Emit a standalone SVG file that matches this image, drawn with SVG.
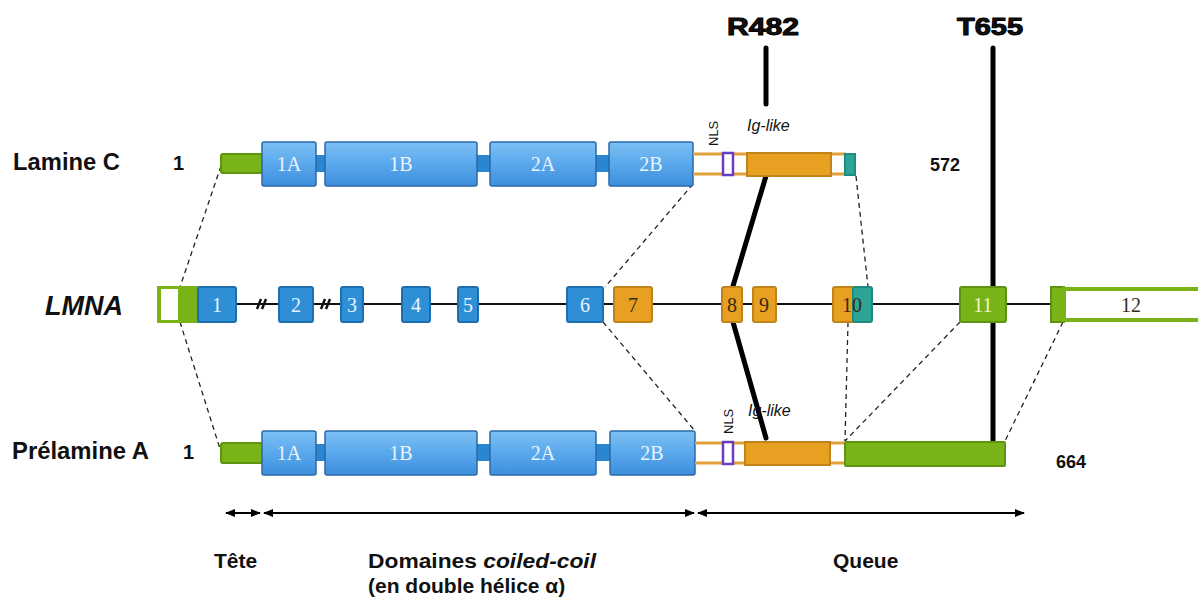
<svg xmlns="http://www.w3.org/2000/svg" width="1198" height="601" viewBox="0 0 1198 601">
<defs>
<linearGradient id="bg" x1="0" y1="0" x2="0" y2="1">
<stop offset="0" stop-color="#7cc0f4"/>
<stop offset="0.5" stop-color="#5aa8ec"/>
<stop offset="1" stop-color="#3d8edc"/>
</linearGradient>
<marker id="ah" viewBox="0 0 10 10" refX="9" refY="5" markerWidth="5" markerHeight="5" orient="auto-start-reverse">
<path d="M0,1 L10,5 L0,9 z" fill="#000"/>
</marker>
<style>
.lbl{font-family:"Liberation Sans",Arial,sans-serif;font-weight:bold;fill:#111}
.txt{font-family:"Liberation Sans",Arial,sans-serif;fill:#111}
.dom{fill:url(#bg);stroke:#2a6aa8;stroke-width:1.5}
.lnk{fill:#2a86d0}
.ser{font-family:"Liberation Serif","Times New Roman",serif;font-size:20px;text-anchor:middle}
.wt{fill:#eaf4ff}
.dk{fill:#3a2a10}
.eb{fill:#2f8fd6;stroke:#1e6fb0;stroke-width:2}
.eo{fill:#e8a022;stroke:#c08418;stroke-width:2}
.eg{fill:#7ab317;stroke:#5f9410;stroke-width:2}
.et{fill:#2aa596;stroke:#1f8a7e;stroke-width:2}
.dash{stroke:#222;stroke-width:1.3;stroke-dasharray:5,4;fill:none}
.tl{stroke:#e2a23a;stroke-width:3;fill:none}
.heavy{stroke:#000;stroke-width:5;stroke-linecap:round;fill:none}
.arr{stroke:#000;stroke-width:2;fill:none;marker-start:url(#ah);marker-end:url(#ah)}
</style>
</defs>
<rect width="1198" height="601" fill="#fff"/>

<g id="connectors">
<line x1="221" y1="166" x2="180" y2="287" class="dash"/>
<line x1="180" y1="322" x2="221" y2="452" class="dash"/>
<line x1="693" y1="184" x2="605" y2="287" class="dash"/>
<line x1="603" y1="322" x2="695" y2="431" class="dash"/>
<line x1="856" y1="176" x2="868" y2="287" class="dash"/>
<line x1="848" y1="322" x2="845" y2="441" class="dash"/>
<line x1="960" y1="322" x2="845" y2="441" class="dash"/>
<line x1="1063" y1="322" x2="1005" y2="441" class="dash"/>
<line x1="766" y1="48" x2="766" y2="104" class="heavy"/>
<line x1="766" y1="176" x2="733" y2="286" class="heavy" stroke-width="6"/>
<line x1="733" y1="322" x2="766" y2="438" class="heavy" stroke-width="6"/>
<line x1="993" y1="48" x2="993" y2="287" class="heavy"/>
<line x1="993" y1="322" x2="993" y2="443" class="heavy"/>
<line x1="226" y1="513" x2="260" y2="513" class="arr"/>
<line x1="264" y1="513" x2="694" y2="513" class="arr"/>
<line x1="698" y1="513" x2="1024" y2="513" class="arr"/>
</g>

<g id="labels">
<text x="13" y="170" class="lbl" font-size="23" textLength="107" lengthAdjust="spacingAndGlyphs">Lamine C</text>
<text x="173" y="170" class="lbl" font-size="20">1</text>
<text x="930" y="171" class="lbl" font-size="18">572</text>
<text x="45" y="315" class="lbl" font-size="27" font-style="italic">LMNA</text>
<text x="12" y="459" class="lbl" font-size="23" textLength="137" lengthAdjust="spacingAndGlyphs">Prélamine A</text>
<text x="183" y="459" class="lbl" font-size="20">1</text>
<text x="1056" y="468" class="lbl" font-size="18">664</text>
<text x="727" y="35" class="lbl" font-size="24" stroke="#000" stroke-width="1" textLength="72" lengthAdjust="spacingAndGlyphs">R482</text>
<text x="957" y="35" class="lbl" font-size="24" stroke="#000" stroke-width="1" textLength="66" lengthAdjust="spacingAndGlyphs">T655</text>
<text x="214" y="568" class="lbl" font-size="21">Tête</text>
<text x="368" y="568" class="lbl" font-size="21" textLength="228" lengthAdjust="spacingAndGlyphs">Domaines <tspan font-style="italic">coiled-coil</tspan></text>
<text x="368" y="593" class="lbl" font-size="21">(en double hélice α)</text>
<text x="833" y="568" class="lbl" font-size="21">Queue</text>
</g>

<g id="lamineC">
<rect x="221" y="154" width="42" height="19" class="eg" rx="2"/>
<rect x="316" y="155" width="10" height="17" class="lnk"/>
<rect x="477" y="155" width="14" height="17" class="lnk"/>
<rect x="596" y="155" width="14" height="17" class="lnk"/>
<rect x="262" y="142" width="54" height="44" class="dom" rx="2"/>
<rect x="325" y="142" width="152" height="44" class="dom" rx="2"/>
<rect x="490" y="142" width="106" height="44" class="dom" rx="2"/>
<rect x="609" y="142" width="84" height="44" class="dom" rx="2"/>
<text x="289" y="171" class="ser wt">1A</text>
<text x="401" y="171" class="ser wt">1B</text>
<text x="543" y="171" class="ser wt">2A</text>
<text x="651" y="171" class="ser wt">2B</text>
<line x1="693" y1="154" x2="846" y2="154" class="tl"/>
<line x1="693" y1="174" x2="846" y2="174" class="tl"/>
<rect x="723" y="153" width="10" height="22" fill="#fff" stroke="#6a3cc0" stroke-width="2.5"/>
<rect x="747" y="153" width="84" height="23" class="eo"/>
<rect x="845" y="154" width="10" height="21" class="et"/>
<text transform="translate(718,146) rotate(-90)" class="txt" font-size="13">NLS</text>
<text x="747" y="131" class="txt" font-size="16" font-style="italic">Ig-like</text>
</g>

<g id="lmna">
<line x1="198" y1="304" x2="1052" y2="304" stroke="#111" stroke-width="2"/>
<g stroke="#111" stroke-width="2.5">
<line x1="257" y1="309" x2="261" y2="299"/><line x1="262" y1="309" x2="266" y2="299"/>
<line x1="321" y1="309" x2="325" y2="299"/><line x1="326" y1="309" x2="330" y2="299"/>
</g>
<rect x="158" y="287" width="40" height="35" fill="#7ab317" stroke="#7ab317" stroke-width="2"/>
<rect x="161" y="289" width="17" height="31" fill="#fff"/>
<rect x="198" y="287" width="38" height="35" class="eb" rx="2"/>
<text x="217" y="312" class="ser wt">1</text>
<rect x="279" y="287" width="34" height="35" class="eb" rx="2"/>
<text x="296" y="312" class="ser wt">2</text>
<rect x="341" y="287" width="22" height="35" class="eb" rx="2"/>
<text x="352" y="312" class="ser wt">3</text>
<rect x="402" y="287" width="28" height="35" class="eb" rx="2"/>
<text x="416" y="312" class="ser wt">4</text>
<rect x="458" y="287" width="20" height="35" class="eb" rx="2"/>
<text x="468" y="312" class="ser wt">5</text>
<rect x="567" y="287" width="36" height="35" class="eb" rx="2"/>
<text x="585" y="312" class="ser wt">6</text>
<rect x="614" y="287" width="38" height="35" class="eo" rx="2"/>
<text x="633" y="312" class="ser dk">7</text>
<rect x="722" y="287" width="20" height="35" class="eo" rx="2"/>
<text x="732" y="312" class="ser dk">8</text>
<rect x="753" y="287" width="23" height="35" class="eo" rx="2"/>
<text x="764" y="312" class="ser dk">9</text>
<rect x="833" y="287" width="22" height="35" class="eo" rx="2"/>
<rect x="853" y="287" width="19" height="35" class="et" rx="2"/>
<text x="852" y="312" class="ser dk">10</text>
<rect x="960" y="287" width="46" height="35" class="eg" rx="2"/>
<text x="983" y="312" class="ser" fill="#eef8c8">11</text>
<rect x="1051" y="287" width="13" height="35" class="eg"/>
<rect x="1064" y="289" width="140" height="31" fill="#fff" stroke="#7ab317" stroke-width="4"/>
<text x="1131" y="312" class="ser dk">12</text>
</g>

<g id="prelamineA">
<rect x="221" y="443" width="42" height="20" class="eg" rx="2"/>
<rect x="316" y="444" width="10" height="17" class="lnk"/>
<rect x="477" y="444" width="14" height="17" class="lnk"/>
<rect x="596" y="444" width="14" height="17" class="lnk"/>
<rect x="262" y="431" width="54" height="44" class="dom" rx="2"/>
<rect x="325" y="431" width="152" height="44" class="dom" rx="2"/>
<rect x="490" y="431" width="106" height="44" class="dom" rx="2"/>
<rect x="610" y="431" width="85" height="44" class="dom" rx="2"/>
<text x="289" y="460" class="ser wt">1A</text>
<text x="401" y="460" class="ser wt">1B</text>
<text x="543" y="460" class="ser wt">2A</text>
<text x="652" y="460" class="ser wt">2B</text>
<line x1="695" y1="443" x2="846" y2="443" class="tl"/>
<line x1="695" y1="463" x2="846" y2="463" class="tl"/>
<rect x="723" y="442" width="10" height="22" fill="#fff" stroke="#6a3cc0" stroke-width="2.5"/>
<rect x="745" y="442" width="85" height="23" class="eo"/>
<rect x="845" y="442" width="160" height="24" class="eg" rx="1"/>
<text transform="translate(733,434) rotate(-90)" class="txt" font-size="13">NLS</text>
<text x="748" y="416" class="txt" font-size="16" font-style="italic">Ig-like</text>
</g>
</svg>
